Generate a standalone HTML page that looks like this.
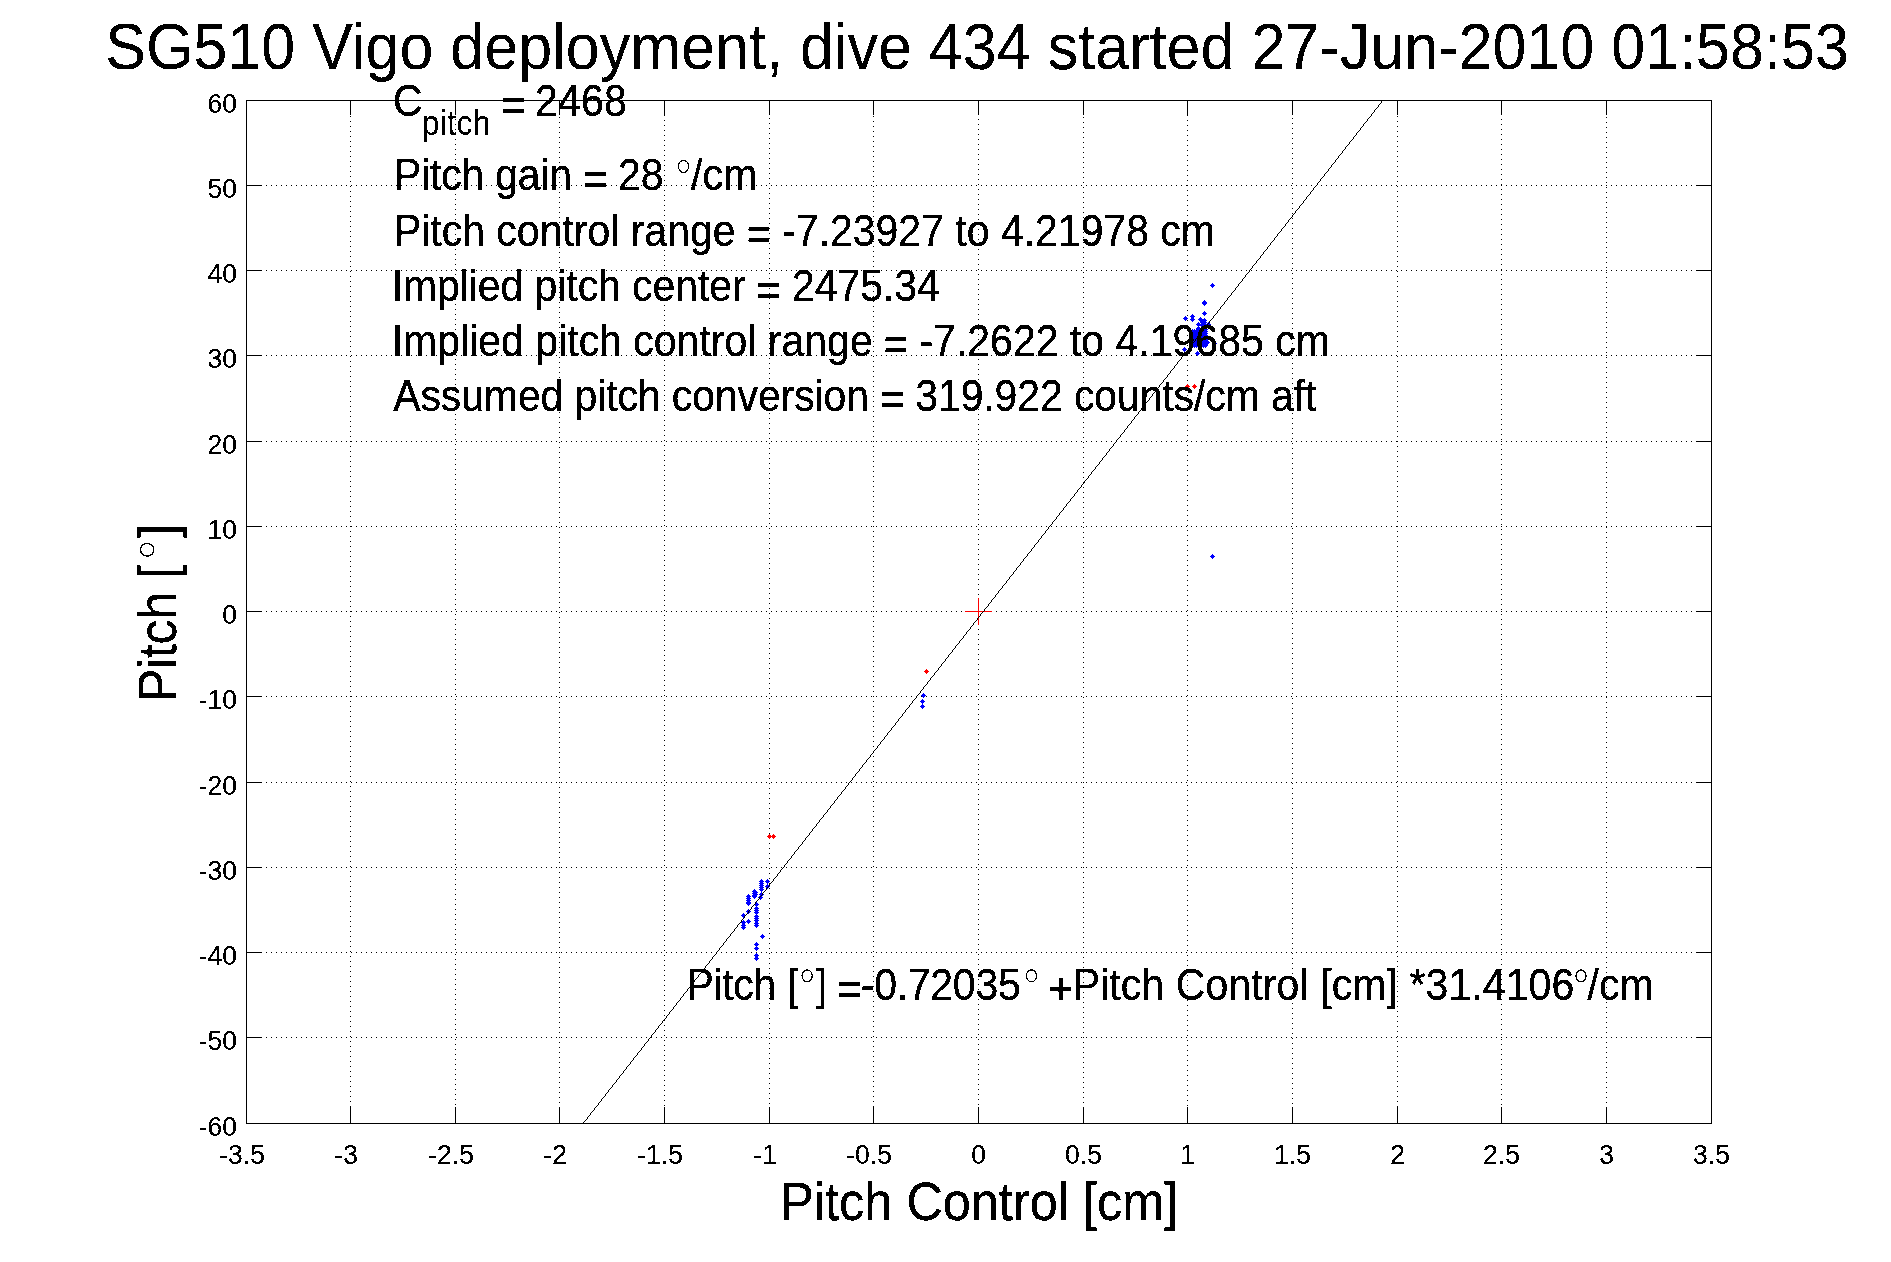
<!DOCTYPE html>
<html><head><meta charset="utf-8"><title>SG510 Vigo deployment, dive 434</title>
<style>html,body{margin:0;padding:0;background:#fff;}body{width:1891px;height:1262px;overflow:hidden;}svg{display:block;will-change:transform;}text{font-family:"Liberation Sans", sans-serif;fill:#000;stroke:#000;stroke-width:0.3px;}</style>
</head><body>
<svg width="1891" height="1262" viewBox="0 0 1891 1262">
<defs>
<g id="m"><rect x="-2" y="0" width="5" height="1"/><rect x="-1" y="-1" width="3" height="3"/><rect x="0" y="-2" width="1" height="5"/></g>
<filter id="bw" x="0" y="0" width="100%" height="100%" filterUnits="userSpaceOnUse" color-interpolation-filters="sRGB"><feComponentTransfer><feFuncA type="discrete" tableValues="0 1"/></feComponentTransfer></filter>
</defs>
<rect x="0" y="0" width="1891" height="1262" fill="#fff"/>
<g shape-rendering="crispEdges" fill="#000">
<g stroke="#000" stroke-width="1" stroke-dasharray="1 4" fill="none"><line x1="350.5" y1="101" x2="350.5" y2="1123"/><line x1="455.5" y1="104" x2="455.5" y2="1123"/><line x1="559.5" y1="102" x2="559.5" y2="1123"/><line x1="664.5" y1="105" x2="664.5" y2="1123"/><line x1="769.5" y1="103" x2="769.5" y2="1123"/><line x1="873.5" y1="101" x2="873.5" y2="1123"/><line x1="978.5" y1="104" x2="978.5" y2="1123"/><line x1="1083.5" y1="102" x2="1083.5" y2="1123"/><line x1="1187.5" y1="105" x2="1187.5" y2="1123"/><line x1="1292.5" y1="103" x2="1292.5" y2="1123"/><line x1="1397.5" y1="101" x2="1397.5" y2="1123"/><line x1="1501.5" y1="104" x2="1501.5" y2="1123"/><line x1="1606.5" y1="102" x2="1606.5" y2="1123"/><line x1="246" y1="185.5" x2="1711" y2="185.5"/><line x1="246" y1="270.5" x2="1711" y2="270.5"/><line x1="246" y1="355.5" x2="1711" y2="355.5"/><line x1="246" y1="441.5" x2="1711" y2="441.5"/><line x1="246" y1="526.5" x2="1711" y2="526.5"/><line x1="246" y1="611.5" x2="1711" y2="611.5"/><line x1="246" y1="696.5" x2="1711" y2="696.5"/><line x1="246" y1="782.5" x2="1711" y2="782.5"/><line x1="246" y1="867.5" x2="1711" y2="867.5"/><line x1="246" y1="952.5" x2="1711" y2="952.5"/><line x1="246" y1="1037.5" x2="1711" y2="1037.5"/></g>
<rect x="246" y="100" width="1466" height="1"/>
<rect x="246" y="1123" width="1466" height="1"/>
<rect x="246" y="100" width="1" height="1024"/>
<rect x="1711" y="100" width="1" height="1024"/>
<rect x="350" y="1107" width="1" height="16"/><rect x="350" y="101" width="1" height="14"/><rect x="455" y="1107" width="1" height="16"/><rect x="455" y="101" width="1" height="14"/><rect x="559" y="1107" width="1" height="16"/><rect x="559" y="101" width="1" height="14"/><rect x="664" y="1107" width="1" height="16"/><rect x="664" y="101" width="1" height="14"/><rect x="769" y="1107" width="1" height="16"/><rect x="769" y="101" width="1" height="14"/><rect x="873" y="1107" width="1" height="16"/><rect x="873" y="101" width="1" height="14"/><rect x="978" y="1107" width="1" height="16"/><rect x="978" y="101" width="1" height="14"/><rect x="1083" y="1107" width="1" height="16"/><rect x="1083" y="101" width="1" height="14"/><rect x="1187" y="1107" width="1" height="16"/><rect x="1187" y="101" width="1" height="14"/><rect x="1292" y="1107" width="1" height="16"/><rect x="1292" y="101" width="1" height="14"/><rect x="1397" y="1107" width="1" height="16"/><rect x="1397" y="101" width="1" height="14"/><rect x="1501" y="1107" width="1" height="16"/><rect x="1501" y="101" width="1" height="14"/><rect x="1606" y="1107" width="1" height="16"/><rect x="1606" y="101" width="1" height="14"/><rect x="247" y="185" width="15" height="1"/><rect x="1696" y="185" width="15" height="1"/><rect x="247" y="270" width="15" height="1"/><rect x="1696" y="270" width="15" height="1"/><rect x="247" y="355" width="15" height="1"/><rect x="1696" y="355" width="15" height="1"/><rect x="247" y="441" width="15" height="1"/><rect x="1696" y="441" width="15" height="1"/><rect x="247" y="526" width="15" height="1"/><rect x="1696" y="526" width="15" height="1"/><rect x="247" y="611" width="15" height="1"/><rect x="1696" y="611" width="15" height="1"/><rect x="247" y="696" width="15" height="1"/><rect x="1696" y="696" width="15" height="1"/><rect x="247" y="782" width="15" height="1"/><rect x="1696" y="782" width="15" height="1"/><rect x="247" y="867" width="15" height="1"/><rect x="1696" y="867" width="15" height="1"/><rect x="247" y="952" width="15" height="1"/><rect x="1696" y="952" width="15" height="1"/><rect x="247" y="1037" width="15" height="1"/><rect x="1696" y="1037" width="15" height="1"/>
</g>
<g shape-rendering="crispEdges">
<g fill="#00f"><use href="#m" x="1212" y="285"/><use href="#m" x="1204" y="302"/><use href="#m" x="1204" y="303"/><use href="#m" x="1204" y="313"/><use href="#m" x="1185" y="318"/><use href="#m" x="1192" y="316"/><use href="#m" x="1192" y="319"/><use href="#m" x="1200" y="319"/><use href="#m" x="1204" y="320"/><use href="#m" x="1204" y="322"/><use href="#m" x="1204" y="324"/><use href="#m" x="1198" y="324"/><use href="#m" x="1202" y="322"/><use href="#m" x="1202" y="325"/><use href="#m" x="1208" y="324"/><use href="#m" x="1198" y="328"/><use href="#m" x="1214" y="343"/><use href="#m" x="1184" y="349"/><use href="#m" x="1197" y="353"/><use href="#m" x="1192" y="331"/><use href="#m" x="1192" y="333"/><use href="#m" x="1192" y="335"/><use href="#m" x="1192" y="337"/><use href="#m" x="1192" y="339"/><use href="#m" x="1192" y="341"/><use href="#m" x="1192" y="343"/><use href="#m" x="1192" y="345"/><use href="#m" x="1194" y="331"/><use href="#m" x="1194" y="333"/><use href="#m" x="1194" y="335"/><use href="#m" x="1194" y="337"/><use href="#m" x="1194" y="339"/><use href="#m" x="1194" y="341"/><use href="#m" x="1194" y="343"/><use href="#m" x="1194" y="345"/><use href="#m" x="1196" y="331"/><use href="#m" x="1196" y="333"/><use href="#m" x="1196" y="335"/><use href="#m" x="1196" y="337"/><use href="#m" x="1196" y="339"/><use href="#m" x="1196" y="341"/><use href="#m" x="1196" y="343"/><use href="#m" x="1196" y="345"/><use href="#m" x="1201" y="329"/><use href="#m" x="1201" y="331"/><use href="#m" x="1201" y="333"/><use href="#m" x="1201" y="335"/><use href="#m" x="1201" y="337"/><use href="#m" x="1201" y="339"/><use href="#m" x="1201" y="341"/><use href="#m" x="1201" y="343"/><use href="#m" x="1201" y="345"/><use href="#m" x="1203" y="329"/><use href="#m" x="1203" y="331"/><use href="#m" x="1203" y="333"/><use href="#m" x="1203" y="335"/><use href="#m" x="1203" y="337"/><use href="#m" x="1203" y="339"/><use href="#m" x="1203" y="341"/><use href="#m" x="1203" y="343"/><use href="#m" x="1203" y="345"/><use href="#m" x="1205" y="329"/><use href="#m" x="1205" y="331"/><use href="#m" x="1205" y="333"/><use href="#m" x="1205" y="335"/><use href="#m" x="1205" y="337"/><use href="#m" x="1205" y="339"/><use href="#m" x="1205" y="341"/><use href="#m" x="1205" y="343"/><use href="#m" x="1205" y="345"/><use href="#m" x="1199" y="334"/><use href="#m" x="1199" y="340"/><use href="#m" x="1207" y="338"/><use href="#m" x="1207" y="342"/><use href="#m" x="1212" y="556"/><use href="#m" x="923" y="695"/><use href="#m" x="922" y="701"/><use href="#m" x="922" y="706"/><use href="#m" x="767" y="881"/><use href="#m" x="767" y="886"/><use href="#m" x="761" y="881"/><use href="#m" x="761" y="883"/><use href="#m" x="761" y="885"/><use href="#m" x="761" y="887"/><use href="#m" x="761" y="889"/><use href="#m" x="761" y="894"/><use href="#m" x="760" y="897"/><use href="#m" x="754" y="891"/><use href="#m" x="754" y="893"/><use href="#m" x="754" y="895"/><use href="#m" x="754" y="896"/><use href="#m" x="755" y="892"/><use href="#m" x="755" y="894"/><use href="#m" x="748" y="896"/><use href="#m" x="748" y="898"/><use href="#m" x="748" y="900"/><use href="#m" x="748" y="902"/><use href="#m" x="748" y="903"/><use href="#m" x="756" y="904"/><use href="#m" x="756" y="908"/><use href="#m" x="756" y="910"/><use href="#m" x="756" y="912"/><use href="#m" x="756" y="916"/><use href="#m" x="756" y="918"/><use href="#m" x="756" y="920"/><use href="#m" x="756" y="923"/><use href="#m" x="756" y="925"/><use href="#m" x="748" y="911"/><use href="#m" x="743" y="915"/><use href="#m" x="748" y="921"/><use href="#m" x="743" y="922"/><use href="#m" x="743" y="925"/><use href="#m" x="743" y="927"/><use href="#m" x="762" y="936"/><use href="#m" x="756" y="944"/><use href="#m" x="756" y="948"/><use href="#m" x="756" y="955"/><use href="#m" x="756" y="958"/></g>
<g fill="#f00"><use href="#m" x="1187" y="386"/><use href="#m" x="1194" y="386"/><use href="#m" x="926" y="671"/><use href="#m" x="769" y="836"/><use href="#m" x="773" y="836"/></g>
<rect x="965" y="611" width="27" height="1" fill="#f00"/><rect x="978" y="598" width="1" height="27" fill="#f00"/>
<path d="M583.5 1124v-2m1 0v-1m1 0v-1m1 0v-1m1 0v-2m1 0v-1m1 0v-1m1 0v-2m1 0v-1m1 0v-1m1 0v-1m1 0v-2m1 0v-1m1 0v-1m1 0v-1m1 0v-2m1 0v-1m1 0v-1m1 0v-2m1 0v-1m1 0v-1m1 0v-1m1 0v-2m1 0v-1m1 0v-1m1 0v-2m1 0v-1m1 0v-1m1 0v-1m1 0v-2m1 0v-1m1 0v-1m1 0v-1m1 0v-2m1 0v-1m1 0v-1m1 0v-2m1 0v-1m1 0v-1m1 0v-1m1 0v-2m1 0v-1m1 0v-1m1 0v-2m1 0v-1m1 0v-1m1 0v-1m1 0v-2m1 0v-1m1 0v-1m1 0v-2m1 0v-1m1 0v-1m1 0v-1m1 0v-2m1 0v-1m1 0v-1m1 0v-1m1 0v-2m1 0v-1m1 0v-1m1 0v-2m1 0v-1m1 0v-1m1 0v-1m1 0v-2m1 0v-1m1 0v-1m1 0v-2m1 0v-1m1 0v-1m1 0v-1m1 0v-2m1 0v-1m1 0v-1m1 0v-2m1 0v-1m1 0v-1m1 0v-1m1 0v-2m1 0v-1m1 0v-1m1 0v-1m1 0v-2m1 0v-1m1 0v-1m1 0v-2m1 0v-1m1 0v-1m1 0v-1m1 0v-2m1 0v-1m1 0v-1m1 0v-2m1 0v-1m1 0v-1m1 0v-1m1 0v-2m1 0v-1m1 0v-1m1 0v-2m1 0v-1m1 0v-1m1 0v-1m1 0v-2m1 0v-1m1 0v-1m1 0v-1m1 0v-2m1 0v-1m1 0v-1m1 0v-2m1 0v-1m1 0v-1m1 0v-1m1 0v-2m1 0v-1m1 0v-1m1 0v-2m1 0v-1m1 0v-1m1 0v-1m1 0v-2m1 0v-1m1 0v-1m1 0v-1m1 0v-2m1 0v-1m1 0v-1m1 0v-2m1 0v-1m1 0v-1m1 0v-1m1 0v-2m1 0v-1m1 0v-1m1 0v-2m1 0v-1m1 0v-1m1 0v-1m1 0v-2m1 0v-1m1 0v-1m1 0v-2m1 0v-1m1 0v-1m1 0v-1m1 0v-2m1 0v-1m1 0v-1m1 0v-1m1 0v-2m1 0v-1m1 0v-1m1 0v-2m1 0v-1m1 0v-1m1 0v-1m1 0v-2m1 0v-1m1 0v-1m1 0v-2m1 0v-1m1 0v-1m1 0v-1m1 0v-2m1 0v-1m1 0v-1m1 0v-2m1 0v-1m1 0v-1m1 0v-1m1 0v-2m1 0v-1m1 0v-1m1 0v-1m1 0v-2m1 0v-1m1 0v-1m1 0v-2m1 0v-1m1 0v-1m1 0v-1m1 0v-2m1 0v-1m1 0v-1m1 0v-2m1 0v-1m1 0v-1m1 0v-1m1 0v-2m1 0v-1m1 0v-1m1 0v-1m1 0v-2m1 0v-1m1 0v-1m1 0v-2m1 0v-1m1 0v-1m1 0v-1m1 0v-2m1 0v-1m1 0v-1m1 0v-2m1 0v-1m1 0v-1m1 0v-1m1 0v-2m1 0v-1m1 0v-1m1 0v-2m1 0v-1m1 0v-1m1 0v-1m1 0v-2m1 0v-1m1 0v-1m1 0v-1m1 0v-2m1 0v-1m1 0v-1m1 0v-2m1 0v-1m1 0v-1m1 0v-1m1 0v-2m1 0v-1m1 0v-1m1 0v-2m1 0v-1m1 0v-1m1 0v-1m1 0v-2m1 0v-1m1 0v-1m1 0v-2m1 0v-1m1 0v-1m1 0v-1m1 0v-2m1 0v-1m1 0v-1m1 0v-1m1 0v-2m1 0v-1m1 0v-1m1 0v-2m1 0v-1m1 0v-1m1 0v-1m1 0v-2m1 0v-1m1 0v-1m1 0v-2m1 0v-1m1 0v-1m1 0v-1m1 0v-2m1 0v-1m1 0v-1m1 0v-1m1 0v-2m1 0v-1m1 0v-1m1 0v-2m1 0v-1m1 0v-1m1 0v-1m1 0v-2m1 0v-1m1 0v-1m1 0v-2m1 0v-1m1 0v-1m1 0v-1m1 0v-2m1 0v-1m1 0v-1m1 0v-2m1 0v-1m1 0v-1m1 0v-1m1 0v-2m1 0v-1m1 0v-1m1 0v-1m1 0v-2m1 0v-1m1 0v-1m1 0v-2m1 0v-1m1 0v-1m1 0v-1m1 0v-2m1 0v-1m1 0v-1m1 0v-2m1 0v-1m1 0v-1m1 0v-1m1 0v-2m1 0v-1m1 0v-1m1 0v-2m1 0v-1m1 0v-1m1 0v-1m1 0v-2m1 0v-1m1 0v-1m1 0v-1m1 0v-2m1 0v-1m1 0v-1m1 0v-2m1 0v-1m1 0v-1m1 0v-1m1 0v-2m1 0v-1m1 0v-1m1 0v-2m1 0v-1m1 0v-1m1 0v-1m1 0v-2m1 0v-1m1 0v-1m1 0v-2m1 0v-1m1 0v-1m1 0v-1m1 0v-2m1 0v-1m1 0v-1m1 0v-1m1 0v-2m1 0v-1m1 0v-1m1 0v-2m1 0v-1m1 0v-1m1 0v-1m1 0v-2m1 0v-1m1 0v-1m1 0v-2m1 0v-1m1 0v-1m1 0v-1m1 0v-2m1 0v-1m1 0v-1m1 0v-1m1 0v-2m1 0v-1m1 0v-1m1 0v-2m1 0v-1m1 0v-1m1 0v-1m1 0v-2m1 0v-1m1 0v-1m1 0v-2m1 0v-1m1 0v-1m1 0v-1m1 0v-2m1 0v-1m1 0v-1m1 0v-2m1 0v-1m1 0v-1m1 0v-1m1 0v-2m1 0v-1m1 0v-1m1 0v-1m1 0v-2m1 0v-1m1 0v-1m1 0v-2m1 0v-1m1 0v-1m1 0v-1m1 0v-2m1 0v-1m1 0v-1m1 0v-2m1 0v-1m1 0v-1m1 0v-1m1 0v-2m1 0v-1m1 0v-1m1 0v-2m1 0v-1m1 0v-1m1 0v-1m1 0v-2m1 0v-1m1 0v-1m1 0v-1m1 0v-2m1 0v-1m1 0v-1m1 0v-2m1 0v-1m1 0v-1m1 0v-1m1 0v-2m1 0v-1m1 0v-1m1 0v-2m1 0v-1m1 0v-1m1 0v-1m1 0v-2m1 0v-1m1 0v-1m1 0v-1m1 0v-2m1 0v-1m1 0v-1m1 0v-2m1 0v-1m1 0v-1m1 0v-1m1 0v-2m1 0v-1m1 0v-1m1 0v-2m1 0v-1m1 0v-1m1 0v-1m1 0v-2m1 0v-1m1 0v-1m1 0v-2m1 0v-1m1 0v-1m1 0v-1m1 0v-2m1 0v-1m1 0v-1m1 0v-1m1 0v-2m1 0v-1m1 0v-1m1 0v-2m1 0v-1m1 0v-1m1 0v-1m1 0v-2m1 0v-1m1 0v-1m1 0v-2m1 0v-1m1 0v-1m1 0v-1m1 0v-2m1 0v-1m1 0v-1m1 0v-2m1 0v-1m1 0v-1m1 0v-1m1 0v-2m1 0v-1m1 0v-1m1 0v-1m1 0v-2m1 0v-1m1 0v-1m1 0v-2m1 0v-1m1 0v-1m1 0v-1m1 0v-2m1 0v-1m1 0v-1m1 0v-2m1 0v-1m1 0v-1m1 0v-1m1 0v-2m1 0v-1m1 0v-1m1 0v-1m1 0v-2m1 0v-1m1 0v-1m1 0v-2m1 0v-1m1 0v-1m1 0v-1m1 0v-2m1 0v-1m1 0v-1m1 0v-2m1 0v-1m1 0v-1m1 0v-1m1 0v-2m1 0v-1m1 0v-1m1 0v-2m1 0v-1m1 0v-1m1 0v-1m1 0v-2m1 0v-1m1 0v-1m1 0v-1m1 0v-2m1 0v-1m1 0v-1m1 0v-2m1 0v-1m1 0v-1m1 0v-1m1 0v-2m1 0v-1m1 0v-1m1 0v-2m1 0v-1m1 0v-1m1 0v-1m1 0v-2m1 0v-1m1 0v-1m1 0v-2m1 0v-1m1 0v-1m1 0v-1m1 0v-2m1 0v-1m1 0v-1m1 0v-1m1 0v-2m1 0v-1m1 0v-1m1 0v-2m1 0v-1m1 0v-1m1 0v-1m1 0v-2m1 0v-1m1 0v-1m1 0v-2m1 0v-1m1 0v-1m1 0v-1m1 0v-2m1 0v-1m1 0v-1m1 0v-2m1 0v-1m1 0v-1m1 0v-1m1 0v-2m1 0v-1m1 0v-1m1 0v-1m1 0v-2m1 0v-1m1 0v-1m1 0v-2m1 0v-1m1 0v-1m1 0v-1m1 0v-2m1 0v-1m1 0v-1m1 0v-2m1 0v-1m1 0v-1m1 0v-1m1 0v-2m1 0v-1m1 0v-1m1 0v-1m1 0v-2m1 0v-1m1 0v-1m1 0v-2m1 0v-1m1 0v-1m1 0v-1m1 0v-2m1 0v-1m1 0v-1m1 0v-2m1 0v-1m1 0v-1m1 0v-1m1 0v-2m1 0v-1m1 0v-1m1 0v-2m1 0v-1m1 0v-1m1 0v-1m1 0v-2m1 0v-1m1 0v-1m1 0v-1m1 0v-2m1 0v-1m1 0v-1m1 0v-2m1 0v-1m1 0v-1m1 0v-1m1 0v-2m1 0v-1m1 0v-1m1 0v-2m1 0v-1m1 0v-1m1 0v-1m1 0v-2m1 0v-1m1 0v-1m1 0v-2m1 0v-1m1 0v-1m1 0v-1m1 0v-2m1 0v-1m1 0v-1m1 0v-1m1 0v-2m1 0v-1m1 0v-1m1 0v-2m1 0v-1m1 0v-1m1 0v-1m1 0v-2m1 0v-1m1 0v-1m1 0v-2m1 0v-1m1 0v-1m1 0v-1m1 0v-2m1 0v-1m1 0v-1m1 0v-1m1 0v-2m1 0v-1m1 0v-1m1 0v-2m1 0v-1m1 0v-1m1 0v-1m1 0v-2m1 0v-1m1 0v-1m1 0v-2m1 0v-1m1 0v-1m1 0v-1m1 0v-2m1 0v-1m1 0v-1m1 0v-2m1 0v-1m1 0v-1m1 0v-1m1 0v-2m1 0v-1m1 0v-1m1 0v-1m1 0v-2m1 0v-1m1 0v-1m1 0v-2m1 0v-1m1 0v-1m1 0v-1m1 0v-2m1 0v-1m1 0v-1m1 0v-2m1 0v-1m1 0v-1m1 0v-1m1 0v-2m1 0v-1m1 0v-1m1 0v-2m1 0v-1m1 0v-1m1 0v-1m1 0v-2m1 0v-1m1 0v-1m1 0v-1m1 0v-2m1 0v-1m1 0v-1m1 0v-2m1 0v-1m1 0v-1m1 0v-1m1 0v-2m1 0v-1m1 0v-1m1 0v-2m1 0v-1m1 0v-1m1 0v-1m1 0v-2m1 0v-1m1 0v-1m1 0v-1m1 0v-2m1 0v-1m1 0v-1m1 0v-2m1 0v-1m1 0v-1m1 0v-1m1 0v-2m1 0v-1m1 0v-1m1 0v-2m1 0v-1m1 0v-1m1 0v-1m1 0v-2m1 0v-1m1 0v-1m1 0v-2m1 0v-1m1 0v-1m1 0v-1m1 0v-2m1 0v-1m1 0v-1m1 0v-1m1 0v-2m1 0v-1m1 0v-1m1 0v-2m1 0v-1m1 0v-1m1 0v-1m1 0v-2m1 0v-1m1 0v-1m1 0v-2m1 0v-1m1 0v-1m1 0v-1m1 0v-2m1 0v-1m1 0v-1m1 0v-2m1 0v-1m1 0v-1m1 0v-1m1 0v-2m1 0v-1m1 0v-1m1 0v-1m1 0v-2m1 0v-1m1 0v-1m1 0v-2m1 0v-1m1 0v-1m1 0v-1m1 0v-2m1 0v-1m1 0v-1m1 0v-2m1 0v-1m1 0v-1m1 0v-1m1 0v-2m1 0v-1m1 0v-1m1 0v-1m1 0v-2m1 0v-1m1 0v-1m1 0v-2m1 0v-1m1 0v-1m1 0v-1m1 0v-2m1 0v-1m1 0v-1m1 0v-2m1 0v-1" stroke="#000" stroke-width="1" fill="none"/>
</g>
<g filter="url(#bw)">
<text transform="translate(242.09,1163.60) scale(1,1.070)" font-size="26.5" text-anchor="middle" style="stroke-width:0.15px">-3.5</text>
<text transform="translate(346.09,1163.60) scale(1,1.070)" font-size="26.5" text-anchor="middle" style="stroke-width:0.15px">-3</text>
<text transform="translate(451.09,1163.60) scale(1,1.070)" font-size="26.5" text-anchor="middle" style="stroke-width:0.15px">-2.5</text>
<text transform="translate(555.09,1163.60) scale(1,1.070)" font-size="26.5" text-anchor="middle" style="stroke-width:0.15px">-2</text>
<text transform="translate(660.09,1163.60) scale(1,1.070)" font-size="26.5" text-anchor="middle" style="stroke-width:0.15px">-1.5</text>
<text transform="translate(765.09,1163.60) scale(1,1.070)" font-size="26.5" text-anchor="middle" style="stroke-width:0.15px">-1</text>
<text transform="translate(869.09,1163.60) scale(1,1.070)" font-size="26.5" text-anchor="middle" style="stroke-width:0.15px">-0.5</text>
<text transform="translate(978.50,1163.60) scale(1,1.070)" font-size="26.5" text-anchor="middle" style="stroke-width:0.15px">0</text>
<text transform="translate(1083.50,1163.60) scale(1,1.070)" font-size="26.5" text-anchor="middle" style="stroke-width:0.15px">0.5</text>
<text transform="translate(1187.50,1163.60) scale(1,1.070)" font-size="26.5" text-anchor="middle" style="stroke-width:0.15px">1</text>
<text transform="translate(1292.50,1163.60) scale(1,1.070)" font-size="26.5" text-anchor="middle" style="stroke-width:0.15px">1.5</text>
<text transform="translate(1397.50,1163.60) scale(1,1.070)" font-size="26.5" text-anchor="middle" style="stroke-width:0.15px">2</text>
<text transform="translate(1501.50,1163.60) scale(1,1.070)" font-size="26.5" text-anchor="middle" style="stroke-width:0.15px">2.5</text>
<text transform="translate(1606.50,1163.60) scale(1,1.070)" font-size="26.5" text-anchor="middle" style="stroke-width:0.15px">3</text>
<text transform="translate(1711.50,1163.60) scale(1,1.070)" font-size="26.5" text-anchor="middle" style="stroke-width:0.15px">3.5</text>
<text transform="translate(237.00,112.60) scale(1,1.070)" font-size="26.5" text-anchor="end" style="stroke-width:0.15px">60</text>
<text transform="translate(237.00,197.60) scale(1,1.070)" font-size="26.5" text-anchor="end" style="stroke-width:0.15px">50</text>
<text transform="translate(237.00,282.60) scale(1,1.070)" font-size="26.5" text-anchor="end" style="stroke-width:0.15px">40</text>
<text transform="translate(237.00,367.60) scale(1,1.070)" font-size="26.5" text-anchor="end" style="stroke-width:0.15px">30</text>
<text transform="translate(237.00,453.60) scale(1,1.070)" font-size="26.5" text-anchor="end" style="stroke-width:0.15px">20</text>
<text transform="translate(237.00,538.60) scale(1,1.070)" font-size="26.5" text-anchor="end" style="stroke-width:0.15px">10</text>
<text transform="translate(237.00,623.60) scale(1,1.070)" font-size="26.5" text-anchor="end" style="stroke-width:0.15px">0</text>
<text transform="translate(237.00,708.60) scale(1,1.070)" font-size="26.5" text-anchor="end" style="stroke-width:0.15px">-10</text>
<text transform="translate(237.00,794.60) scale(1,1.070)" font-size="26.5" text-anchor="end" style="stroke-width:0.15px">-20</text>
<text transform="translate(237.00,879.60) scale(1,1.070)" font-size="26.5" text-anchor="end" style="stroke-width:0.15px">-30</text>
<text transform="translate(237.00,964.60) scale(1,1.070)" font-size="26.5" text-anchor="end" style="stroke-width:0.15px">-40</text>
<text transform="translate(237.00,1049.60) scale(1,1.070)" font-size="26.5" text-anchor="end" style="stroke-width:0.15px">-50</text>
<text transform="translate(237.00,1135.60) scale(1,1.070)" font-size="26.5" text-anchor="end" style="stroke-width:0.15px">-60</text>
<text transform="translate(105.23,68.60) scale(1,1.055)" font-size="61" text-anchor="start" style="stroke-width:0.1px" textLength="1743.65" lengthAdjust="spacing">SG510 Vigo deployment, dive 434 started 27-Jun-2010 01:58:53</text>
<text transform="translate(780.27,1220.30) scale(1,1.080)" font-size="50.4" text-anchor="start" textLength="397.93" lengthAdjust="spacing">Pitch Control [cm]</text>
<g transform="translate(175.9,698.6) rotate(-90)">
<text transform="translate(-3.43,0.00) scale(1,1.080)" font-size="50.4" text-anchor="start" textLength="137.53" lengthAdjust="spacing">Pitch [</text>
<ellipse cx="148.90" cy="-28.80" rx="6.30" ry="6.70" fill="none" stroke="#000" stroke-width="1.40"/>
<text transform="translate(160.71,0.00) scale(1,1.080)" font-size="50.4" text-anchor="start">]</text>
</g>
<text transform="translate(393.02,116.30) scale(1,1.080)" font-size="41" text-anchor="start">C</text>
<text transform="translate(421.76,134.90) scale(1,1.080)" font-size="31.7" text-anchor="start" style="stroke-width:0.1px" textLength="68.70" lengthAdjust="spacing">pitch</text>
<text transform="translate(501.70,116.30) scale(1,1.080)" font-size="41" text-anchor="start"><tspan dy="3.49" style="stroke-width:1px">=</tspan></text>
<text transform="translate(534.94,116.30) scale(1,1.080)" font-size="41" text-anchor="start" textLength="91.84" lengthAdjust="spacing">2468</text>
<text transform="translate(393.94,190.40) scale(1,1.080)" font-size="41" text-anchor="start" textLength="269.55" lengthAdjust="spacing">Pitch gain <tspan dy="3.49" style="stroke-width:1px">=</tspan><tspan dy="-3.49"> 28</tspan></text>
<ellipse cx="683.50" cy="166.45" rx="5.10" ry="6.00" fill="none" stroke="#000" stroke-width="1.20"/>
<text transform="translate(690.90,190.40) scale(1,1.080)" font-size="41" text-anchor="start" textLength="66.50" lengthAdjust="spacing">/cm</text>
<text transform="translate(393.94,245.60) scale(1,1.080)" font-size="41" text-anchor="start" textLength="821.07" lengthAdjust="spacing">Pitch control range <tspan dy="3.49" style="stroke-width:1px">=</tspan><tspan dy="-3.49"> -7.23927 to 4.21978 cm</tspan></text>
<text transform="translate(391.72,300.70) scale(1,1.080)" font-size="41" text-anchor="start" textLength="547.98" lengthAdjust="spacing">Implied pitch center <tspan dy="3.49" style="stroke-width:1px">=</tspan><tspan dy="-3.49"> 2475.34</tspan></text>
<text transform="translate(391.72,355.60) scale(1,1.080)" font-size="41" text-anchor="start" textLength="938.09" lengthAdjust="spacing">Implied pitch control range <tspan dy="3.49" style="stroke-width:1px">=</tspan><tspan dy="-3.49"> -7.2622 to 4.19685 cm</tspan></text>
<text transform="translate(393.22,410.50) scale(1,1.080)" font-size="41" text-anchor="start" textLength="923.08" lengthAdjust="spacing">Assumed pitch conversion <tspan dy="3.49" style="stroke-width:1px">=</tspan><tspan dy="-3.49"> 319.922 counts/cm aft</tspan></text>
<text transform="translate(686.44,999.80) scale(1,1.080)" font-size="41" text-anchor="start" textLength="112.08" lengthAdjust="spacing">Pitch [</text>
<ellipse cx="807.10" cy="975.80" rx="5.10" ry="6.00" fill="none" stroke="#000" stroke-width="1.20"/>
<text transform="translate(815.68,999.80) scale(1,1.080)" font-size="41" text-anchor="start">]</text>
<text transform="translate(837.20,999.80) scale(1,1.080)" font-size="41" text-anchor="start" textLength="183.52" lengthAdjust="spacing"><tspan dy="3.49" style="stroke-width:1px">=</tspan><tspan dy="-3.49">-0.72035</tspan></text>
<ellipse cx="1031.50" cy="975.80" rx="5.10" ry="6.00" fill="none" stroke="#000" stroke-width="1.20"/>
<text transform="translate(1048.70,999.80) scale(1,1.080)" font-size="41" text-anchor="start" textLength="525.60" lengthAdjust="spacing"><tspan dy="3.49" style="stroke-width:1px">+</tspan><tspan dy="-3.49">Pitch Control [cm] *31.4106</tspan></text>
<ellipse cx="1581.00" cy="975.80" rx="5.10" ry="6.00" fill="none" stroke="#000" stroke-width="1.20"/>
<text transform="translate(1587.60,999.80) scale(1,1.080)" font-size="41" text-anchor="start" textLength="66.00" lengthAdjust="spacing">/cm</text>
</g>
</svg></body></html>
